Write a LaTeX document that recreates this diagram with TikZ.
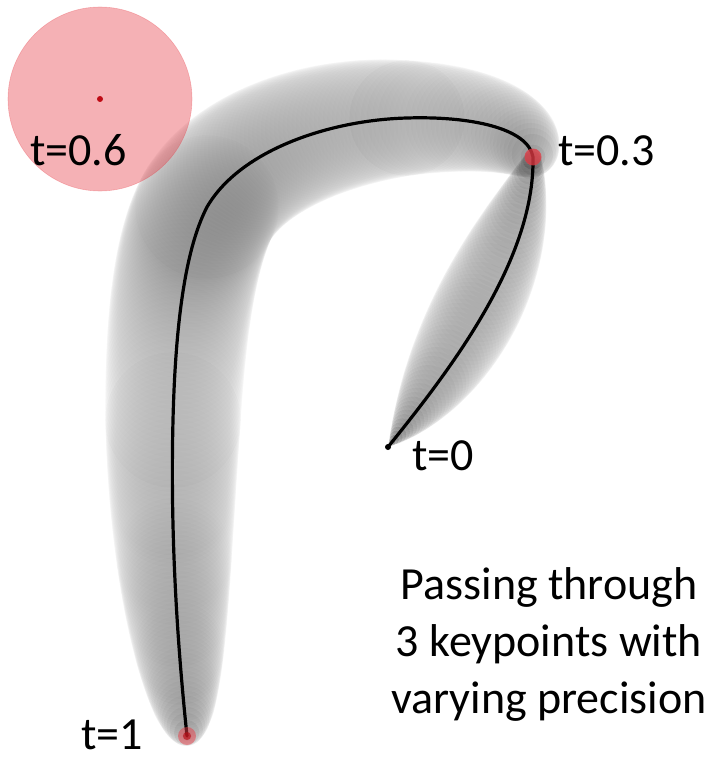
\documentclass[tikz,border=0pt]{standalone}
\usepackage{fontspec}
\setmainfont{Carlito}
\definecolor{KeyRed}{RGB}{230,60,70}
\definecolor{DotRed}{RGB}{190,10,20}
\tikzset{
  curveline/.style={line width=3.2pt,black,line cap=round},
  tlabel/.style={inner sep=0pt,anchor=base west,font=\fontsize{46}{57}\selectfont},
  keydot/.style={fill=KeyRed,fill opacity=0.75},
  zone/.style={fill=KeyRed,fill opacity=0.4,draw=KeyRed,draw opacity=0.3,line width=0.6pt}
}
\begin{document}
\begin{tikzpicture}[x=1pt,y=-1pt]
  \useasboundingbox (0,0) rectangle (717,757);
  \coordinate (k0) at (388,447);
  \coordinate (a1) at (450,370);
  \coordinate (a2) at (535,260);
  \coordinate (m1) at (442,385);
  \coordinate (m2) at (515,250);
  \coordinate (k3) at (533,157);
  \coordinate (b1) at (528,128);
  \coordinate (b2) at (470,116);
  \coordinate (top) at (407,118);
  \coordinate (c1) at (330,120);
  \coordinate (c2) at (240,150);
  \coordinate (bend) at (207,207);
  \coordinate (d1) at (190,240);
  \coordinate (d2) at (176,300);
  \coordinate (low) at (173,420);
  \coordinate (e1) at (170,540);
  \coordinate (e2) at (178,650);
  \coordinate (k1) at (187,736);
  \coordinate (k6) at (100,99);
  \foreach \i in {0,...,82}{
    \pgfmathsetmacro\tubef{\i/82}
    \path (k0) .. controls (m1) and (m2) .. (k3) coordinate[pos=\tubef] (tubept);
    \pgfmathsetmacro\tuber{max(0.6,40*sin(180*\tubef)+8*\tubef)}
    \pgfmathsetmacro\tubeo{min(0.22,0.85/\tuber)}
    \fill[black,fill opacity=\tubeo] (tubept) circle[radius=\tuber pt];
  }
  \foreach \pa/\pb/\pc/\pd/\fo/\fl/\n in {k3/b1/b2/top/0/0.16/36,top/c1/c2/bend/0.16/0.25/58,
      bend/d1/d2/low/0.41/0.24/55,low/e1/e2/k1/0.65/0.35/79}{
    \foreach \i in {0,...,\n}{
      \pgfmathsetmacro\tubet{\i/\n}
      \pgfmathsetmacro\tubef{\fo+\fl*\tubet}
      \path (\pa) .. controls (\pb) and (\pc) .. (\pd) coordinate[pos=\tubet] (tubept);
      \pgfmathsetmacro\tuber{max(0.6,8*(1-\tubef)+68*(abs(sin(180*\tubef))+0.001)^0.4)}
      \pgfmathsetmacro\tubeo{min(0.22,0.8/\tuber)}
      \fill[black,fill opacity=\tubeo] (tubept) circle[radius=\tuber pt];
    }
  }
  \fill[zone] (k6) circle[radius=92pt];
  \fill[DotRed] (k6) circle[radius=3pt];
  \draw[curveline] (k0) .. controls (a1) and (a2) .. (k3)
    .. controls (b1) and (b2) .. (top) .. controls (c1) and (c2) .. (bend)
    .. controls (d1) and (d2) .. (low) .. controls (e1) and (e2) .. (k1);
  \fill[black] (k0) circle[radius=3pt];
  \fill[keydot] (k3) circle[radius=8.5pt];
  \fill[keydot,fill opacity=0.5] (k1) circle[radius=9pt];
  \fill[DotRed,fill opacity=0.6] (k1) circle[radius=4pt];
  \node[tlabel] (lab0) at (412,470) {t=0};
  \node[tlabel] (lab3) at (558,165) {t=0.3};
  \node[tlabel] (lab6) at (30,165) {t=0.6};
  \node[tlabel] (lab1) at (81,749) {t=1};
  \node[inner sep=0pt,anchor=base,align=center,font=\fontsize{46}{57}\selectfont] (caption)
    at (549,713) {Passing through\\ 3 keypoints with\\ varying precision};
\end{tikzpicture}
\end{document}
